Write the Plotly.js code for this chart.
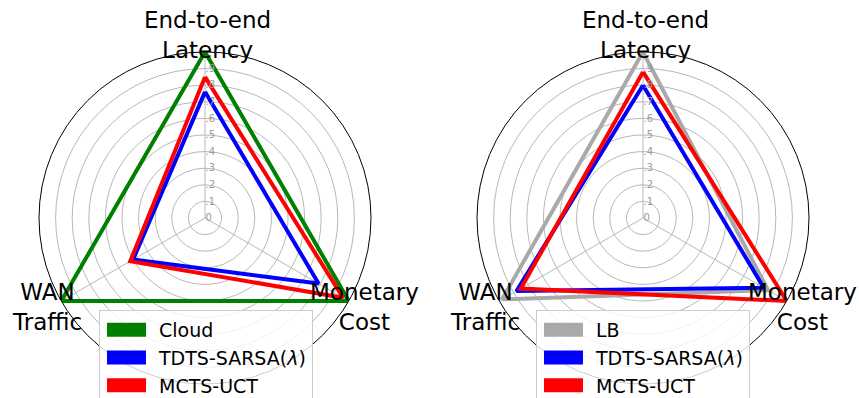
<!DOCTYPE html>
<html>
<head>
<meta charset="utf-8">
<script src="https://cdn.plot.ly/plotly-3.0.1.min.js"></script>
<style>html,body{margin:0;padding:0;background:#fff;}#chart{width:859px;height:398px;}</style>
</head>
<body>
<div id="chart"></div>
<script>
// Categories (axes of the radar charts)
var categories = ['End-to-end<br>Latency', 'WAN<br>Traffic', 'Monetary<br>Cost'];
// Left chart series
var cloud = [1.0, 1.0, 1.0];
var tdtsLeft = [0.76, 0.50, 0.79];
var mctsLeft = [0.85, 0.52, 0.96];
// Right chart series
var lb = [1.0, 0.98, 0.87];
var tdtsRight = [0.80, 0.88, 0.84];
var mctsRight = [0.88, 0.85, 1.0];
// Radial ticks
var rTickVals = [0, 0.1, 0.2, 0.3, 0.4, 0.5, 0.6, 0.7, 0.8, 0.9];
var rTickText = ['0', '.1', '.2', '.3', '.4', '.5', '.6', '.7', '.8', '.9'];

function closed(a) { return a.concat([a[0]]); }
function trace(vals, name, color, subplot, legend) {
  return {
    type: 'scatterpolar', mode: 'lines',
    r: closed(vals), theta: closed(categories),
    name: name, subplot: subplot, legend: legend,
    line: {color: color, width: 4},
    hoverinfo: 'skip'
  };
}

var data = [
  trace(cloud, 'Cloud', '#008000', 'polar', 'legend'),
  trace(tdtsLeft, 'TDTS-SARSA(<i>λ</i>)', '#0000ff', 'polar', 'legend'),
  trace(mctsLeft, 'MCTS-UCT', '#ff0000', 'polar', 'legend'),
  trace(lb, 'LB', '#a9a9a9', 'polar2', 'legend2'),
  trace(tdtsRight, 'TDTS-SARSA(<i>λ</i>)', '#0000ff', 'polar2', 'legend2'),
  trace(mctsRight, 'MCTS-UCT', '#ff0000', 'polar2', 'legend2')
];

function polarCfg(x0) {
  return {
    domain: {x: [x0 / 859, (x0 + 332) / 859], y: [1 - 384 / 398, 1 - 52 / 398]},
    bgcolor: 'rgba(0,0,0,0)',
    radialaxis: {
      range: [0, 1], tickvals: rTickVals, ticktext: rTickText,
      showline: false, ticks: '', angle: 90, tickangle: 90,
      gridcolor: '#b8b8b8', gridwidth: 1,
      tickfont: {family: 'DejaVu Sans', size: 10, color: '#9a9a9a'}
    },
    angularaxis: {
      type: 'category', rotation: 90, direction: 'counterclockwise',
      showticklabels: false, ticks: '', showline: true,
      linecolor: '#000', linewidth: 1, gridcolor: '#b8b8b8', gridwidth: 1
    }
  };
}

function legendCfg(x) {
  return {
    x: x / 859, y: 1 - 310 / 398, xanchor: 'left', yanchor: 'top',
    bgcolor: 'rgba(255,255,255,0.8)', bordercolor: '#cccccc', borderwidth: 1,
    font: {family: 'DejaVu Sans', size: 19, color: '#000'},
    itemwidth: 49, traceorder: 'normal'
  };
}

var labelFont = {family: 'DejaVu Sans', size: 23, color: '#000'};
var centers = [205, 643];
var offsets = [[2, 35], [-158, 307], [159, 307]];
var annotations = [];
centers.forEach(function (cx) {
  categories.forEach(function (c, i) {
    annotations.push({
      xref: 'paper', yref: 'paper',
      x: (cx + offsets[i][0]) / 859, y: 1 - offsets[i][1] / 398,
      xanchor: 'center', yanchor: 'middle',
      text: c, showarrow: false, font: labelFont, align: 'center'
    });
  });
});

var layout = {
  width: 859, height: 398,
  margin: {l: 0, r: 0, t: 0, b: 0, autoexpand: false},
  paper_bgcolor: '#fff',
  font: {family: 'DejaVu Sans'},
  polar: polarCfg(39),
  polar2: polarCfg(477),
  legend: legendCfg(99),
  legend2: legendCfg(536),
  annotations: annotations,
  showlegend: true
};

Plotly.newPlot('chart', data, layout, {displayModeBar: false, staticPlot: true}).then(function (gd) {
  gd.querySelectorAll('.legendlines path').forEach(function (p) {
    p.style.strokeWidth = '14px';
    p.setAttribute('d', 'M7,0h39');
  });
});
</script>
</body>
</html>
